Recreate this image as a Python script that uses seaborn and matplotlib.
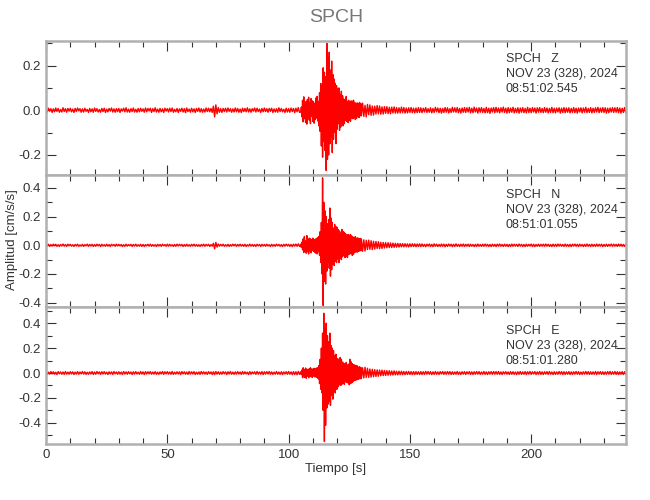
import numpy as np
import pandas as pd
import matplotlib
matplotlib.use("Agg")
import matplotlib.pyplot as plt
import seaborn as sns
from matplotlib.ticker import MultipleLocator

# Trace samples, in thousandths of cm/s/s.
# pre: 0.5 s step from 0 s, burst: 0.25 s step from 105 s,
# coda: 0.5 s step from 130 s, post: 0.5 s step from 155 s
z_pre = [5, -8, 9, -4, 7, -10, 6, -7, 10, -5, 8, -9, 3, -8, 11, -6, 7, -9, 8, -4,
         9, -7, 5, -10, 8, -6, 10, -3, 7, -9, 6, -8, 9, -5, 4, -10, 8, -7, 6, -9,
         10, -5, 7, -8, 3, -9, 8, -6, 9, -10, 5, -7, 8, -4, 10, -8, 6, -9, 7, -6,
         8, -10, 6, -4, 9, -7, 11, -8, 5, -9, 7, -6, 10, -8, 4, -9, 8, -7, 9, -5,
         6, -9, 10, -7, 8, -3, 9, -10, 7, -6, 11, -8, 5, -9, 8, -7, 6, -10, 9, -4,
         7, -8, 9, -6, 10, -9, 4, -7, 8, -10, 6, -5, 9, -8, 7, -11, 10, -6, 5, -9,
         9, -7, 6, -10, 8, -5, 10, -8, 7, -9, 5, -8, 10, -6, 9, -7, 8, -10, 18, -30,
         24, -16, 12, -9, 7, -10, 8, -6, 9, -8, 10, -5, 7, -9, 6, -8, 10, -7, 8, -9,
         5, -10, 9, -6, 8, -7, 11, -8, 6, -9, 7, -4, 10, -8, 9, -6, 5, -10, 8, -7,
         10, -6, 7, -9, 8, -5, 9, -10, 6, -8, 7, -9, 11, -6, 8, -7, 4, -10, 9, -8,
         7, -9, 10, -6, 8, -11, 9, -7, 12, -10]
z_burst = [-8, 14, -30, 45, -52, 60, -38, 25, -55, 40, -62, 48, -30, 58, -44, 35, -60, 52, -28, 42,
           -50, 38, -58, 30, -42, 55, -35, 62, -48, 40, -70, 78, -95, 120, -160, 110, -210, 190, -140, 170,
           -180, 150, -270, 300, -220, 240, -200, 260, -150, 180, -120, 220, -190, 160, -130, 140, -100, 120, -150, 110,
           -85, 95, -60, 100, -90, 70, -75, 85, -55, 65, -70, 50, -60, 48, -45, 62, -50, 40, -55, 45,
           -45, 38, -50, 42, -35, 40, -38, 45, -30, 35, -42, 28, -36, 33, -28, 30, -33, 35, -25, 30]
z_coda = [-25, 32, -28, 22, -30, 26, -20, 24, -23, 19,
          -22, 18, -17, 21, -16, 19, -18, 15, -17, 16,
          -14, 16, -15, 13, -16, 14, -12, 15, -13, 12,
          -13, 11, -12, 14, -11, 12, -13, 10, -12, 11,
          -10, 12, -11, 9, -12, 10, -11, 12, -10, 11]
z_post = [-11, 9, -8, 12, -10, 7, -9, 11, -12, 8, -10, 13, -7, 10, -11, 9, -13, 8, -10, 12,
          -9, 11, -12, 7, -10, 13, -8, 11, -9, 12, -11, 8, -13, 10, -9, 12, -10, 11, -8, 13,
          -12, 9, -11, 14, -8, 10, -13, 11, -9, 12, -10, 8, -12, 13, -11, 9, -14, 10, -8, 12,
          -11, 13, -9, 10, -12, 11, -8, 14, -10, 9, -13, 12, -11, 10, -9, 13, -12, 8, -10, 11,
          -13, 10, -9, 12, -11, 8, -12, 13, -10, 9, -11, 12, -8, 10, -13, 11, -9, 12, -10, 8,
          -11, 12, -9, 10, -12, 8, -10, 13, -11, 9, -12, 10, -8, 11, -13, 9, -10, 12, -11, 10,
          -9, 11, -12, 8, -10, 12, -11, 9, -13, 10, -8, 11, -12, 10, -9, 13, -11, 8, -10, 12,
          -12, 9, -10, 11, -8, 13, -11, 10, -9, 12, -10, 11, -13, 9, -11, 10, -8, 12, -10, 11,
          -9, 12, -11, 10, -13, 9, -10, 12, -11]

n_pre = [6, -4, 7, -8, 5, -6, 8, -3, 7, -7, 4, -8, 6, -5, 9, -6, 5, -7, 8, -4,
         7, -6, 4, -8, 6, -5, 8, -7, 3, -6, 7, -8, 5, -4, 8, -7, 6, -5, 7, -8,
         5, -7, 8, -4, 6, -8, 7, -5, 4, -7, 8, -6, 5, -8, 7, -3, 6, -7, 8, -5,
         7, -5, 6, -8, 4, -7, 8, -6, 5, -4, 7, -8, 6, -5, 8, -7, 4, -6, 7, -8,
         6, -8, 5, -4, 7, -6, 8, -7, 5, -6, 4, -8, 7, -5, 6, -7, 8, -4, 5, -7,
         8, -6, 7, -5, 4, -8, 6, -7, 8, -5, 7, -4, 6, -8, 5, -7, 8, -6, 4, -7,
         7, -5, 8, -6, 5, -7, 4, -8, 6, -5, 8, -7, 6, -4, 7, -8, 5, -6, 14, -24,
         20, -12, 9, -6, 7, -5, 8, -7, 4, -6, 7, -8, 5, -6, 8, -4, 7, -7, 6, -5,
         8, -6, 5, -7, 7, -8, 4, -5, 8, -6, 6, -7, 5, -8, 7, -4, 6, -8, 7, -5,
         6, -7, 8, -5, 4, -8, 7, -6, 5, -7, 8, -4, 6, -7, 5, -8, 7, -6, 8, -5,
         7, -8, 6, -9, 8, -6, 9, -7, 10, -8]
n_burst = [8, -14, 22, -32, 45, -50, 62, -40, 30, -55, 68, -45, 35, -60, 50, -38, 45, -52, 40, -35,
           50, -42, 38, -48, 42, -55, 48, -60, 55, -45, 62, -70, 95, -120, 160, -200, 470, -420, 300, -250,
           240, -270, 200, -180, 150, -120, 180, -160, 260, -215, 190, -170, 160, -130, 120, -140, 145, -110, 130, -120,
           125, -95, 110, -120, 100, -90, 85, -100, 110, -80, 95, -70, 90, -85, 80, -75, 70, -85, 75, -65,
           70, -60, 75, -55, 65, -70, 58, -62, 55, -50, 60, -45, 50, -48, 52, -42, 45, -40, 48, -38]
n_coda = [45, -42, 38, -40, 35, -30, 36, -28, 32, -30,
          28, -26, 27, -22, 25, -24, 21, -22, 20, -19,
          19, -17, 18, -16, 16, -15, 15, -14, 14, -13,
          13, -12, 12, -11, 12, -11, 11, -10, 10, -11,
          10, -9, 11, -9, 10, -10, 9, -8, 10, -9]
n_post = [9, -8, 7, -10, 8, -6, 9, -8, 7, -9, 10, -7, 8, -9, 6, -8, 9, -7, 8, -10,
          7, -8, 9, -6, 8, -9, 7, -8, 10, -7, 6, -9, 8, -7, 9, -8, 7, -6, 8, -9,
          8, -7, 6, -9, 7, -8, 9, -7, 6, -8, 8, -7, 9, -6, 7, -8, 6, -9, 8, -7,
          7, -9, 8, -6, 9, -7, 6, -8, 8, -7, 7, -9, 6, -8, 9, -7, 8, -6, 7, -8,
          9, -6, 7, -8, 6, -9, 8, -7, 7, -6, 9, -8, 7, -9, 6, -7, 8, -8, 7, -6,
          8, -7, 9, -6, 7, -8, 6, -9, 8, -7, 7, -8, 9, -6, 8, -7, 6, -8, 9, -7,
          6, -8, 7, -9, 8, -6, 9, -7, 7, -8, 8, -6, 6, -9, 7, -8, 9, -7, 6, -8,
          8, -7, 6, -8, 9, -7, 7, -6, 8, -9, 6, -7, 8, -8, 7, -6, 9, -7, 8, -6,
          7, -8, 9, -6, 8, -7, 6, -8, 7]

e_pre = [9, -11, 7, -10, 12, -8, 10, -9, 6, -12, 11, -7, 9, -10, 8, -11, 12, -9, 7, -10,
         11, -8, 10, -12, 7, -9, 11, -10, 8, -7, 12, -9, 10, -11, 6, -10, 9, -8, 11, -12,
         8, -10, 12, -7, 9, -11, 10, -8, 11, -9, 7, -12, 10, -8, 9, -11, 12, -7, 8, -10,
         10, -9, 7, -11, 12, -8, 9, -10, 11, -7, 8, -12, 10, -9, 11, -8, 7, -10, 12, -9,
         9, -12, 11, -8, 10, -7, 12, -10, 8, -9, 11, -11, 7, -10, 9, -8, 12, -11, 10, -7,
         11, -9, 8, -10, 12, -11, 7, -9, 10, -8, 9, -12, 11, -7, 10, -10, 8, -11, 12, -9,
         10, -8, 11, -12, 7, -10, 9, -11, 12, -8, 10, -9, 8, -11, 11, -7, 9, -12, 10, -13,
         12, -9, 10, -11, 8, -10, 11, -7, 9, -12, 10, -8, 12, -10, 7, -11, 9, -9, 11, -8,
         8, -11, 12, -9, 10, -8, 7, -12, 11, -10, 9, -7, 10, -11, 12, -9, 8, -10, 11, -12,
         10, -9, 11, -8, 12, -10, 9, -11, 7, -9, 12, -10, 8, -11, 10, -12, 9, -8, 11, -10,
         12, -10, 9, -13, 11, -12, 10, -14, 13, -11]
e_burst = [10, -12, 25, -38, 42, -30, 28, -36, 40, -42, 30, -25, 22, -38, 35, -30, 42, -28, 32, -36,
           32, -25, 38, -30, 36, -32, 40, -35, 42, -48, 60, -85, 110, -130, 200, -160, 320, -300, 480, -550,
           350, -420, 400, -280, 300, -250, 250, -230, 320, -260, 220, -180, 200, -210, 180, -150, 140, -160, 150, -130,
           -130, 115, -110, 95, -95, 125, -100, 110, -90, 88, -85, 78, -90, 70, -70, 85, -75, 65, -80, 72,
           -95, 110, -85, 90, -80, 75, -70, 68, -62, 64, -58, 60, -55, 58, -52, 48, -48, 50, -46, 45]
e_coda = [-45, 42, -40, 46, -36, 38, -35, 32, -33, 30,
          -30, 27, -28, 25, -26, 24, -22, 23, -21, 20,
          -20, 19, -18, 19, -17, 16, -16, 17, -15, 14,
          -15, 14, -13, 14, -13, 12, -13, 12, -12, 13,
          -12, 11, -12, 11, -12, 11, -11, 10, -12, 11]
e_post = [-12, 10, -11, 13, -9, 12, -10, 11, -13, 9, -11, 12, -10, 9, -12, 11, -8, 12, -11, 10,
          -10, 12, -9, 11, -12, 10, -11, 9, -10, 12, -11, 8, -12, 10, -9, 11, -12, 10, -8, 11,
          -11, 9, -12, 10, -10, 12, -9, 11, -11, 8, -10, 12, -11, 9, -12, 10, -9, 11, -10, 12,
          -9, 11, -10, 12, -11, 9, -12, 10, -8, 11, -10, 9, -12, 11, -10, 10, -11, 8, -12, 10,
          -10, 12, -11, 9, -10, 11, -12, 10, -9, 12, -11, 10, -8, 11, -12, 9, -10, 12, -11, 9,
          -12, 10, -9, 11, -11, 12, -10, 8, -12, 10, -11, 9, -10, 12, -9, 11, -12, 10, -11, 9,
          -10, 11, -12, 9, -11, 10, -9, 12, -10, 11, -12, 8, -11, 10, -9, 12, -10, 11, -12, 10,
          -11, 9, -10, 12, -12, 10, -9, 11, -11, 10, -12, 9, -10, 11, -9, 12, -11, 10, -10, 12,
          -11, 10, -12, 9, -10, 11, -12, 10, -11]

components = ["Z", "N", "E"]
start_times = ["08:51:02.545", "08:51:01.055", "08:51:01.280"]
date_label = "NOV 23 (328), 2024"
station = "SPCH"
ylims = [(-0.29, 0.31), (-0.43, 0.49), (-0.57, 0.53)]
traces = [(z_pre, z_burst, z_coda, z_post),
          (n_pre, n_burst, n_coda, n_post),
          (e_pre, e_burst, e_coda, e_post)]
# (start time [s], sampling interval [s]) of each typed segment
segments = [(0, 0.5), (105, 0.25), (130, 0.5), (155, 0.5)]


def build_trace(parts):
    t = np.concatenate([t0 + dt * np.arange(len(p)) for (t0, dt), p in zip(segments, parts)])
    a = np.concatenate(parts) / 1000.0
    return pd.DataFrame({"t": t, "amp": a})


sns.set_theme(style="ticks")
plt.rcParams["font.family"] = ["Liberation Sans", "DejaVu Sans"]
plt.rcParams["axes.edgecolor"] = "#b0b0b0"
plt.rcParams["axes.linewidth"] = 1.8

fig = plt.figure(figsize=(6.5, 5), dpi=100)
# panel positions (left, bottom, width, height) in figure fraction
boxes = [(0.0708, 0.650, 0.892, 0.268),
         (0.0708, 0.386, 0.892, 0.264),
         (0.0708, 0.112, 0.892, 0.274)]
text_y = [(0.866, 0.754, 0.642), (0.848, 0.735, 0.621), (0.825, 0.715, 0.606)]

for i, comp in enumerate(components):
    ax = fig.add_axes(boxes[i])
    df = build_trace(traces[i])
    sns.lineplot(data=df, x="t", y="amp", ax=ax, color="#ff0000", lw=1.0,
                 estimator=None, sort=False)
    ax.set_xlim(0, 239)
    ax.set_ylim(*ylims[i])
    ax.xaxis.set_major_locator(MultipleLocator(50))
    ax.xaxis.set_minor_locator(MultipleLocator(10))
    ax.yaxis.set_major_locator(MultipleLocator(0.2))
    ax.yaxis.set_minor_locator(MultipleLocator(0.1))
    ax.tick_params(which="both", direction="in", top=True, right=True,
                   color="#333333", labelcolor="#333333", labelsize=9.5, width=0.8)
    ax.tick_params(which="major", length=7)
    ax.tick_params(which="minor", length=4)
    ax.yaxis.set_major_formatter(plt.FuncFormatter(lambda v, p: f"{v:.1f}"))
    ax.set_xlabel("")
    ax.set_ylabel("")
    if i < 2:
        ax.tick_params(axis="x", labelbottom=False)
    for spine in ax.spines.values():
        spine.set_visible(True)
    lines = [f"{station}   {comp}", date_label, start_times[i]]
    for txt, yy in zip(lines, text_y[i]):
        ax.text(0.793, yy, txt, transform=ax.transAxes, ha="left", va="center",
                fontsize=9, color="#333333")

fig.text(0.517, 0.964, station, ha="center", va="center", fontsize=14, color="#777777")
fig.text(0.517, 0.062, "Tiempo [s]", ha="center", va="center", fontsize=9.5, color="#333333")
fig.text(0.018, 0.52, "Amplitud [cm/s/s]", ha="center", va="center", rotation=90,
         fontsize=9.5, color="#333333")

fig.savefig("out.png", dpi=100, facecolor="white")
